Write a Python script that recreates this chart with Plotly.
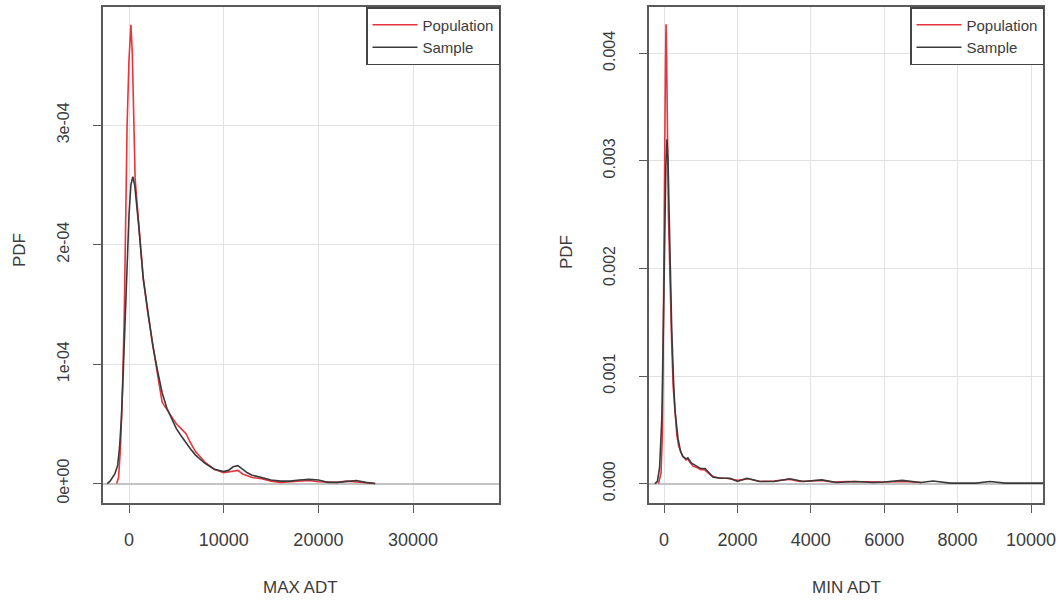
import plotly.graph_objects as go

# ---- MAX ADT density estimates (x in vehicles/day, y in 1e-4) ----
max_pop_x = [-1300, -1100, -900, -700, -500, -350, -200, 0, 200, 350, 500, 650, 900, 1200,
             1500, 2000, 2500, 3000, 3500, 4000, 4500, 5000, 5500, 6000, 6500, 7000, 8000,
             9000, 10000, 11000, 11500, 12000, 13000, 14000, 15000, 16000, 17000, 18000,
             19000, 20000, 21000, 22000, 23000, 24000, 25000, 26000]
max_pop_y = [0.0, 0.05, 0.3, 0.75, 1.4, 2.1, 3.0, 3.55, 3.84, 3.6, 3.0, 2.55, 2.3, 2.0,
             1.72, 1.42, 1.15, 0.92, 0.68, 0.62, 0.55, 0.5, 0.46, 0.42, 0.34, 0.27, 0.18,
             0.12, 0.09, 0.1, 0.11, 0.08, 0.05, 0.04, 0.02, 0.01, 0.015, 0.02,
             0.025, 0.015, 0.01, 0.01, 0.02, 0.015, 0.005, 0.0]

max_smp_x = [-2300, -2000, -1500, -1200, -1000, -800, -600, -400, -200, 0, 200, 400, 600,
             800, 1000, 1500, 2000, 2500, 3000, 3500, 4000, 4500, 5000, 5500, 6000, 6500,
             7000, 8000, 9000, 10000, 10500, 11000, 11500, 12000, 12500, 13000, 14000,
             15000, 16000, 17000, 18000, 19000, 20000, 21000, 22000, 23000, 24000, 25000,
             26000]
max_smp_y = [0.0, 0.02, 0.08, 0.15, 0.3, 0.55, 0.95, 1.45, 1.9, 2.25, 2.5, 2.57, 2.5,
             2.35, 2.18, 1.72, 1.42, 1.16, 0.95, 0.76, 0.63, 0.54, 0.46, 0.4, 0.34, 0.29,
             0.24, 0.17, 0.12, 0.1, 0.11, 0.14, 0.15, 0.12, 0.09, 0.07, 0.05,
             0.03, 0.02, 0.02, 0.03, 0.035, 0.03, 0.01, 0.01, 0.015, 0.025, 0.01,
             0.0]

# ---- MIN ADT density estimates (x in vehicles/day, y in 1e-3) ----
min_pop_x = [-150, -80, -40, -10, 10, 25, 40, 55, 70, 85, 100, 120, 150, 180, 210, 250,
             300, 350, 400, 500, 600, 650, 700, 800, 900, 1000, 1100, 1200, 1300, 1500,
             1700, 2000, 2300, 2600, 3000, 3400, 3700, 4300, 4600, 5000, 5500, 6000,
             6500, 7000]
min_pop_y = [0.0, 0.1, 0.5, 1.5, 2.6, 3.3, 3.9, 4.27, 4.0, 3.3, 3.0, 2.5, 2.1, 1.6, 1.3,
             0.9, 0.62, 0.45, 0.35, 0.26, 0.22, 0.23, 0.2, 0.16, 0.15, 0.13, 0.13, 0.1,
             0.07, 0.05, 0.05, 0.03, 0.045, 0.02, 0.025, 0.04, 0.02, 0.03, 0.015, 0.02,
             0.015, 0.015, 0.02, 0.01]

min_smp_x = [-250, -180, -120, -60, -20, 20, 50, 80, 110, 140, 170, 210, 260, 300, 380,
             450, 520, 600, 650, 750, 900, 1000, 1120, 1250, 1340, 1600, 1800, 2000, 2260,
             2620, 3000, 3430, 3800, 4300, 4700, 5200, 5700, 6000, 6490, 7000, 7330, 7800,
             8500, 8880, 9300, 10500]
min_smp_y = [0.0, 0.02, 0.15, 0.6, 1.4, 2.4, 2.95, 3.2, 3.0, 2.5, 2.0, 1.43, 0.95, 0.68,
             0.42, 0.3, 0.25, 0.23, 0.24, 0.19, 0.16, 0.14, 0.14, 0.09, 0.06, 0.05, 0.05,
             0.02, 0.05, 0.02, 0.02, 0.045, 0.02, 0.035, 0.01, 0.02, 0.01, 0.015, 0.03,
             0.01, 0.025, 0.005, 0.005, 0.02, 0.005, 0.005]

max_xticks = [0, 10000, 20000, 30000]
max_xlabels = ["0", "10000", "20000", "30000"]
max_yticks = [0, 1e-4, 2e-4, 3e-4]
max_ylabels = ["0e+00", "1e-04", "2e-04", "3e-04"]
min_xticks = [0, 2000, 4000, 6000, 8000, 10000]
min_xlabels = ["0", "2000", "4000", "6000", "8000", "10000"]
min_yticks = [0, 0.001, 0.002, 0.003, 0.004]
min_ylabels = ["0.000", "0.001", "0.002", "0.003", "0.004"]

RED = "#e8343c"
DARK = "#3a3a3a"
TXT = "#3c3c3c"
FONT = "Liberation Sans"
W, H = 1060, 600

fig = go.Figure()
fig.add_trace(go.Scatter(x=max_pop_x, y=[v * 1e-4 for v in max_pop_y], mode="lines",
                         name="Population", line=dict(color=RED, width=1.6),
                         xaxis="x", yaxis="y", legend="legend"))
fig.add_trace(go.Scatter(x=max_smp_x, y=[v * 1e-4 for v in max_smp_y], mode="lines",
                         name="Sample", line=dict(color=DARK, width=1.6),
                         xaxis="x", yaxis="y", legend="legend"))
fig.add_trace(go.Scatter(x=min_pop_x, y=[v * 1e-3 for v in min_pop_y], mode="lines",
                         name="Population", line=dict(color=RED, width=1.6),
                         xaxis="x2", yaxis="y2", legend="legend2"))
fig.add_trace(go.Scatter(x=min_smp_x, y=[v * 1e-3 for v in min_smp_y], mode="lines",
                         name="Sample", line=dict(color=DARK, width=1.6),
                         xaxis="x2", yaxis="y2", legend="legend2"))

ydom = [(H - 503) / H, (H - 7) / H]
axis_common = dict(showline=True, mirror=True, linecolor="#5a5a5a", linewidth=1.5,
                   ticks="outside", ticklen=8, tickcolor="#5a5a5a", tickwidth=1.2,
                   showgrid=True, gridcolor="#e2e2e2", gridwidth=1, automargin=False,
                   tickfont=dict(family=FONT, size=18, color=TXT))
yfont = dict(family=FONT, size=16, color=TXT)

legend_style = dict(y=ydom[1], yanchor="top", xanchor="right",
                    bgcolor="white", bordercolor="#444444", borderwidth=1.5,
                    font=dict(family=FONT, size=15, color=TXT), itemwidth=45,
                    tracegroupgap=0)

fig.update_layout(
    width=W, height=H, margin=dict(l=0, r=0, t=0, b=0, autoexpand=False),
    paper_bgcolor="white", plot_bgcolor="white",
    showlegend=True,
    xaxis=dict(domain=[103 / W, 499 / W], range=[-2745, 39070], tickvals=max_xticks,
               ticktext=max_xlabels, zeroline=False, anchor="y", ticklabelstandoff=12,
               **axis_common),
    yaxis=dict(domain=ydom, range=[-0.163e-4, 3.99e-4], tickvals=max_yticks,
               ticktext=max_ylabels, tickangle=-90, anchor="x",
               zeroline=True, zerolinecolor="#c4c4c4", zerolinewidth=2,
               ticklabelstandoff=18, **{**axis_common, "tickfont": yfont}),
    xaxis2=dict(domain=[649 / W, 1043 / W], range=[-409, 10327], tickvals=min_xticks,
                ticktext=min_xlabels, zeroline=False, anchor="y2", ticklabelstandoff=12,
                **axis_common),
    yaxis2=dict(domain=ydom, range=[-0.18e-3, 4.43e-3], tickvals=min_yticks,
                ticktext=min_ylabels, tickangle=-90, anchor="x2",
                zeroline=True, zerolinecolor="#c4c4c4", zerolinewidth=2,
                ticklabelstandoff=18, **{**axis_common, "tickfont": yfont}),
    legend=dict(x=500 / W, **legend_style),
    legend2=dict(x=1044 / W, **legend_style),
)

titles = [
    dict(text="PDF", x=20 / W, y=(H - 250) / H, textangle=-90),
    dict(text="PDF", x=566 / W, y=(H - 252) / H, textangle=-90),
    dict(text="MAX ADT", x=300 / W, y=(H - 587) / H, textangle=0),
    dict(text="MIN ADT", x=846 / W, y=(H - 587) / H, textangle=0),
]
for t in titles:
    fig.add_annotation(xref="paper", yref="paper", showarrow=False,
                       xanchor="center", yanchor="middle",
                       font=dict(family=FONT, size=17, color=TXT), **t)

fig.write_html("out.html")
